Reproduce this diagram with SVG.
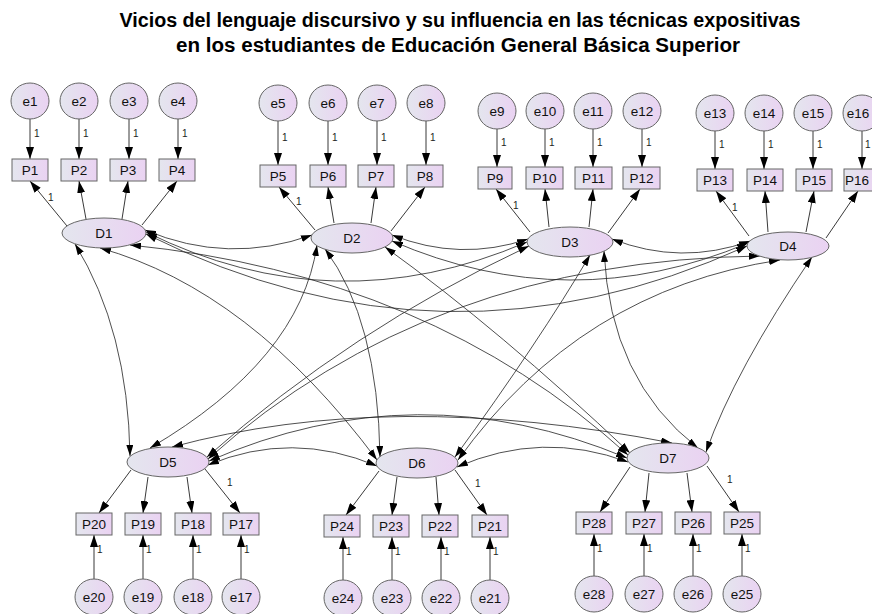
<svg xmlns="http://www.w3.org/2000/svg" width="872" height="614" viewBox="0 0 872 614">
<defs>
<linearGradient id="g" x1="0" y1="0" x2="1" y2="0">
<stop offset="0" stop-color="#e4e6ee"/>
<stop offset="1" stop-color="#ead2f2"/>
</linearGradient>
<marker id="a" viewBox="0 0 12 8" refX="12" refY="4" markerWidth="12" markerHeight="8" markerUnits="userSpaceOnUse" orient="auto-start-reverse">
<path d="M0,0L12,4L0,8z" fill="#000"/>
</marker>
<marker id="b" viewBox="0 0 11 7" refX="11" refY="3.5" markerWidth="11" markerHeight="7" markerUnits="userSpaceOnUse" orient="auto-start-reverse">
<path d="M0,0L11,3.5L0,7z" fill="#000"/>
</marker>
</defs>
<style>
.n ellipse,.n rect{fill:url(#g);stroke:#666;stroke-width:1}
.t{font-family:"Liberation Sans",Arial,sans-serif;font-size:13.5px;fill:#111;text-anchor:middle;dominant-baseline:central}
.w text{font-family:"Liberation Sans",Arial,sans-serif;font-size:10px;fill:#222}
.p{stroke:#222;stroke-width:0.9;fill:none;marker-end:url(#a)}
.c{stroke:#222;stroke-width:0.8;fill:none;marker-start:url(#b);marker-end:url(#b)}
.title{font-family:"Liberation Sans",Arial,sans-serif;font-size:20px;font-weight:bold;fill:#000;text-anchor:middle}
</style>
<rect width="872" height="614" fill="#fff"/>
<text class="title" x="460" y="27" textLength="681" lengthAdjust="spacingAndGlyphs">Vicios del lenguaje discursivo y su influencia en las técnicas expositivas</text>
<text class="title" x="458" y="52" textLength="564" lengthAdjust="spacingAndGlyphs">en los estudiantes de Educación General Básica Superior</text>

<g id="connectors">
<line class="p" x1="30" y1="119" x2="30" y2="159"/><line class="p" x1="79" y1="119" x2="79" y2="159"/><line class="p" x1="129" y1="119" x2="129" y2="159"/><line class="p" x1="178" y1="119" x2="178" y2="159"/>
<line class="p" x1="278" y1="121" x2="278" y2="165"/><line class="p" x1="328" y1="121" x2="328" y2="165"/><line class="p" x1="377" y1="121" x2="377" y2="165"/><line class="p" x1="426" y1="121" x2="426" y2="165"/>
<line class="p" x1="497" y1="129" x2="497" y2="167"/><line class="p" x1="545" y1="129" x2="545" y2="167"/><line class="p" x1="593" y1="129" x2="593" y2="167"/><line class="p" x1="642" y1="129" x2="642" y2="167"/>
<line class="p" x1="715" y1="131" x2="715" y2="169"/><line class="p" x1="764" y1="131" x2="764" y2="169"/><line class="p" x1="813" y1="131" x2="813" y2="169"/><line class="p" x1="862" y1="131" x2="862" y2="169"/>
<line class="p" x1="94" y1="579" x2="94" y2="535"/><line class="p" x1="143" y1="579" x2="143" y2="535"/><line class="p" x1="193" y1="579" x2="193" y2="535"/><line class="p" x1="241" y1="579" x2="241" y2="535"/>
<line class="p" x1="343" y1="580" x2="343" y2="537"/><line class="p" x1="392" y1="580" x2="392" y2="537"/><line class="p" x1="441" y1="580" x2="441" y2="537"/><line class="p" x1="490" y1="580" x2="490" y2="537"/>
<line class="p" x1="594" y1="576" x2="594" y2="534"/><line class="p" x1="644" y1="576" x2="644" y2="534"/><line class="p" x1="693" y1="576" x2="693" y2="534"/><line class="p" x1="742" y1="576" x2="742" y2="534"/>

<line class="p" x1="67" y1="226" x2="30" y2="181"/><line class="p" x1="86" y1="219" x2="79" y2="181"/><line class="p" x1="122" y1="219" x2="128" y2="181"/><line class="p" x1="142" y1="225" x2="177" y2="181"/>
<line class="p" x1="315" y1="230" x2="279" y2="187"/><line class="p" x1="334" y1="223" x2="328" y2="187"/><line class="p" x1="371" y1="223" x2="376" y2="187"/><line class="p" x1="391" y1="231" x2="425" y2="187"/>
<line class="p" x1="530" y1="232" x2="496" y2="189"/><line class="p" x1="549" y1="227" x2="545" y2="189"/><line class="p" x1="589" y1="227" x2="593" y2="189"/><line class="p" x1="608" y1="233" x2="640" y2="189"/>
<line class="p" x1="749" y1="236" x2="716" y2="191"/><line class="p" x1="768" y1="232" x2="765" y2="191"/><line class="p" x1="806" y1="232" x2="814" y2="191"/><line class="p" x1="826" y1="238" x2="858" y2="191"/>
<line class="p" x1="131" y1="470" x2="99" y2="513"/><line class="p" x1="148" y1="477" x2="143" y2="513"/><line class="p" x1="187" y1="477" x2="192" y2="513"/><line class="p" x1="205" y1="469" x2="240" y2="513"/>
<line class="p" x1="379" y1="471" x2="346" y2="515"/><line class="p" x1="397" y1="477" x2="392" y2="515"/><line class="p" x1="436" y1="477" x2="439" y2="515"/><line class="p" x1="455" y1="470" x2="487" y2="515"/>
<line class="p" x1="630" y1="467" x2="600" y2="512"/><line class="p" x1="649" y1="473" x2="645" y2="512"/><line class="p" x1="687" y1="473" x2="692" y2="512"/><line class="p" x1="707" y1="466" x2="739" y2="512"/>

<path class="c" d="M145,230Q228,265 312,235"/>
<path class="c" d="M146,232Q334,325 527,242"/>
<path class="c" d="M146,234Q445,383 747,246"/>
<path class="c" d="M75,244Q128,330 130,456"/>
<path class="c" d="M100,248Q250,290 377,460"/>
<path class="c" d="M130,245Q430,275 628,455"/>
<path class="c" d="M392,235Q460,262 528,239"/>
<path class="c" d="M392,241Q570,318 748,243"/>
<path class="c" d="M317,245Q300,360 150,448"/>
<path class="c" d="M325,249Q378,320 380,457"/>
<path class="c" d="M385,247Q500,330 630,453"/>
<path class="c" d="M612,239Q681,266 750,241"/>
<path class="c" d="M529,246Q350,330 207,457"/>
<path class="c" d="M590,255Q540,340 455,457"/>
<path class="c" d="M604,251Q610,380 698,448"/>
<path class="c" d="M760,256Q430,260 208,459"/>
<path class="c" d="M780,260Q580,290 458,460"/>
<path class="c" d="M812,257Q735,370 706,452"/>
<path class="c" d="M208,465Q292,430 377,466"/>
<path class="c" d="M172,447Q390,388 672,443"/>
<path class="c" d="M209,461Q417,370 627,458"/>
<path class="c" d="M457,467Q542,430 628,462"/>

<g class="w">
<text x="34" y="137">1</text><text x="83" y="137">1</text><text x="133" y="137">1</text><text x="182" y="137">1</text>
<text x="282" y="141">1</text><text x="332" y="141">1</text><text x="381" y="141">1</text><text x="430" y="141">1</text>
<text x="501" y="146">1</text><text x="549" y="146">1</text><text x="597" y="146">1</text><text x="646" y="146">1</text>
<text x="719" y="148">1</text><text x="768" y="148">1</text><text x="817" y="148">1</text><text x="865" y="148">1</text>
<text x="48" y="201">1</text><text x="296" y="205">1</text><text x="513" y="209">1</text><text x="732" y="211">1</text>
<text x="97" y="553">1</text><text x="146" y="553">1</text><text x="196" y="553">1</text><text x="244" y="553">1</text>
<text x="346" y="555">1</text><text x="395" y="555">1</text><text x="444" y="555">1</text><text x="493" y="555">1</text>
<text x="597" y="552">1</text><text x="647" y="552">1</text><text x="696" y="552">1</text><text x="745" y="552">1</text>
<text x="227" y="486">1</text><text x="475" y="487">1</text><text x="727" y="483">1</text>
</g>
</g>

<g id="D1" class="n"><ellipse cx="104" cy="233" rx="42" ry="15"/><text class="t" x="104" y="233">D1</text></g>
<g id="D2" class="n"><ellipse cx="352" cy="238" rx="41" ry="15"/><text class="t" x="352" y="238">D2</text></g>
<g id="D3" class="n"><ellipse cx="570" cy="242" rx="43" ry="15"/><text class="t" x="570" y="242">D3</text></g>
<g id="D4" class="n"><ellipse cx="788" cy="246" rx="41" ry="14"/><text class="t" x="788" y="246">D4</text></g>
<g id="D5" class="n"><ellipse cx="168" cy="462" rx="41" ry="15"/><text class="t" x="168" y="462">D5</text></g>
<g id="D6" class="n"><ellipse cx="417" cy="463" rx="41" ry="15"/><text class="t" x="417" y="463">D6</text></g>
<g id="D7" class="n"><ellipse cx="668" cy="458" rx="41" ry="15"/><text class="t" x="668" y="458">D7</text></g>

<g id="P1" class="n"><rect x="12" y="159" width="36" height="22"/><text class="t" x="30" y="170">P1</text></g>
<g id="P2" class="n"><rect x="61" y="159" width="36" height="22"/><text class="t" x="79" y="170">P2</text></g>
<g id="P3" class="n"><rect x="110" y="159" width="36" height="22"/><text class="t" x="128" y="170">P3</text></g>
<g id="P4" class="n"><rect x="159" y="159" width="36" height="22"/><text class="t" x="177" y="170">P4</text></g>
<g id="P5" class="n"><rect x="260" y="165" width="36" height="22"/><text class="t" x="278" y="176">P5</text></g>
<g id="P6" class="n"><rect x="310" y="165" width="36" height="22"/><text class="t" x="328" y="176">P6</text></g>
<g id="P7" class="n"><rect x="358" y="165" width="36" height="22"/><text class="t" x="376" y="176">P7</text></g>
<g id="P8" class="n"><rect x="407" y="165" width="36" height="22"/><text class="t" x="425" y="176">P8</text></g>
<g id="P9" class="n"><rect x="478" y="167" width="34" height="22"/><text class="t" x="495" y="178">P9</text></g>
<g id="P10" class="n"><rect x="526" y="167" width="37" height="22"/><text class="t" x="544.5" y="178">P10</text></g>
<g id="P11" class="n"><rect x="575" y="167" width="37" height="22"/><text class="t" x="593.5" y="178">P11</text></g>
<g id="P12" class="n"><rect x="623" y="167" width="37" height="22"/><text class="t" x="641.5" y="178">P12</text></g>
<g id="P13" class="n"><rect x="697" y="169" width="36" height="22"/><text class="t" x="715" y="180">P13</text></g>
<g id="P14" class="n"><rect x="747" y="169" width="36" height="22"/><text class="t" x="765" y="180">P14</text></g>
<g id="P15" class="n"><rect x="796" y="169" width="36" height="22"/><text class="t" x="814" y="180">P15</text></g>
<g id="P16" class="n"><rect x="844" y="169" width="36" height="22"/><text class="t" x="857" y="180">P16</text></g>
<g id="P20" class="n"><rect x="76" y="513" width="36" height="22"/><text class="t" x="94" y="524">P20</text></g>
<g id="P19" class="n"><rect x="125" y="513" width="36" height="22"/><text class="t" x="143" y="524">P19</text></g>
<g id="P18" class="n"><rect x="175" y="513" width="36" height="22"/><text class="t" x="193" y="524">P18</text></g>
<g id="P17" class="n"><rect x="223" y="513" width="36" height="22"/><text class="t" x="241" y="524">P17</text></g>
<g id="P24" class="n"><rect x="324" y="515" width="36" height="22"/><text class="t" x="342" y="526">P24</text></g>
<g id="P23" class="n"><rect x="373" y="515" width="36" height="22"/><text class="t" x="391" y="526">P23</text></g>
<g id="P22" class="n"><rect x="422" y="515" width="36" height="22"/><text class="t" x="440" y="526">P22</text></g>
<g id="P21" class="n"><rect x="472" y="515" width="36" height="22"/><text class="t" x="490" y="526">P21</text></g>
<g id="P28" class="n"><rect x="576" y="512" width="36" height="22"/><text class="t" x="594" y="523">P28</text></g>
<g id="P27" class="n"><rect x="626" y="512" width="36" height="22"/><text class="t" x="644" y="523">P27</text></g>
<g id="P26" class="n"><rect x="675" y="512" width="36" height="22"/><text class="t" x="693" y="523">P26</text></g>
<g id="P25" class="n"><rect x="724" y="512" width="36" height="22"/><text class="t" x="742" y="523">P25</text></g>

<g id="e1" class="n"><ellipse cx="30" cy="101" rx="19" ry="18"/><text class="t" x="30" y="101">e1</text></g>
<g id="e2" class="n"><ellipse cx="79" cy="101" rx="19" ry="18"/><text class="t" x="79" y="101">e2</text></g>
<g id="e3" class="n"><ellipse cx="129" cy="101" rx="19" ry="18"/><text class="t" x="129" y="101">e3</text></g>
<g id="e4" class="n"><ellipse cx="178" cy="101" rx="19" ry="18"/><text class="t" x="178" y="101">e4</text></g>
<g id="e5" class="n"><ellipse cx="278" cy="103" rx="19" ry="18"/><text class="t" x="278" y="103">e5</text></g>
<g id="e6" class="n"><ellipse cx="328" cy="103" rx="19" ry="18"/><text class="t" x="328" y="103">e6</text></g>
<g id="e7" class="n"><ellipse cx="377" cy="103" rx="19" ry="18"/><text class="t" x="377" y="103">e7</text></g>
<g id="e8" class="n"><ellipse cx="426" cy="103" rx="19" ry="18"/><text class="t" x="426" y="103">e8</text></g>
<g id="e9" class="n"><ellipse cx="497" cy="111" rx="19" ry="18"/><text class="t" x="497" y="111">e9</text></g>
<g id="e10" class="n"><ellipse cx="545" cy="111" rx="19" ry="18"/><text class="t" x="545" y="111">e10</text></g>
<g id="e11" class="n"><ellipse cx="593" cy="111" rx="19" ry="18"/><text class="t" x="593" y="111">e11</text></g>
<g id="e12" class="n"><ellipse cx="642" cy="111" rx="19" ry="18"/><text class="t" x="642" y="111">e12</text></g>
<g id="e13" class="n"><ellipse cx="715" cy="113" rx="19" ry="18"/><text class="t" x="715" y="113">e13</text></g>
<g id="e14" class="n"><ellipse cx="764" cy="113" rx="19" ry="18"/><text class="t" x="764" y="113">e14</text></g>
<g id="e15" class="n"><ellipse cx="813" cy="113" rx="19" ry="18"/><text class="t" x="813" y="113">e15</text></g>
<g id="e16" class="n"><ellipse cx="862" cy="113" rx="19" ry="18"/><text class="t" x="858" y="113">e16</text></g>
<g id="e20" class="n"><ellipse cx="94" cy="597" rx="19" ry="18"/><text class="t" x="94" y="597">e20</text></g>
<g id="e19" class="n"><ellipse cx="143" cy="597" rx="19" ry="18"/><text class="t" x="143" y="597">e19</text></g>
<g id="e18" class="n"><ellipse cx="193" cy="597" rx="19" ry="18"/><text class="t" x="193" y="597">e18</text></g>
<g id="e17" class="n"><ellipse cx="241" cy="597" rx="19" ry="18"/><text class="t" x="241" y="597">e17</text></g>
<g id="e24" class="n"><ellipse cx="343" cy="598" rx="19" ry="18"/><text class="t" x="343" y="598">e24</text></g>
<g id="e23" class="n"><ellipse cx="392" cy="598" rx="19" ry="18"/><text class="t" x="392" y="598">e23</text></g>
<g id="e22" class="n"><ellipse cx="441" cy="598" rx="19" ry="18"/><text class="t" x="441" y="598">e22</text></g>
<g id="e21" class="n"><ellipse cx="490" cy="598" rx="19" ry="18"/><text class="t" x="490" y="598">e21</text></g>
<g id="e28" class="n"><ellipse cx="594" cy="594" rx="19" ry="18"/><text class="t" x="594" y="594">e28</text></g>
<g id="e27" class="n"><ellipse cx="644" cy="594" rx="19" ry="18"/><text class="t" x="644" y="594">e27</text></g>
<g id="e26" class="n"><ellipse cx="693" cy="594" rx="19" ry="18"/><text class="t" x="693" y="594">e26</text></g>
<g id="e25" class="n"><ellipse cx="742" cy="594" rx="19" ry="18"/><text class="t" x="742" y="594">e25</text></g>
</svg>
